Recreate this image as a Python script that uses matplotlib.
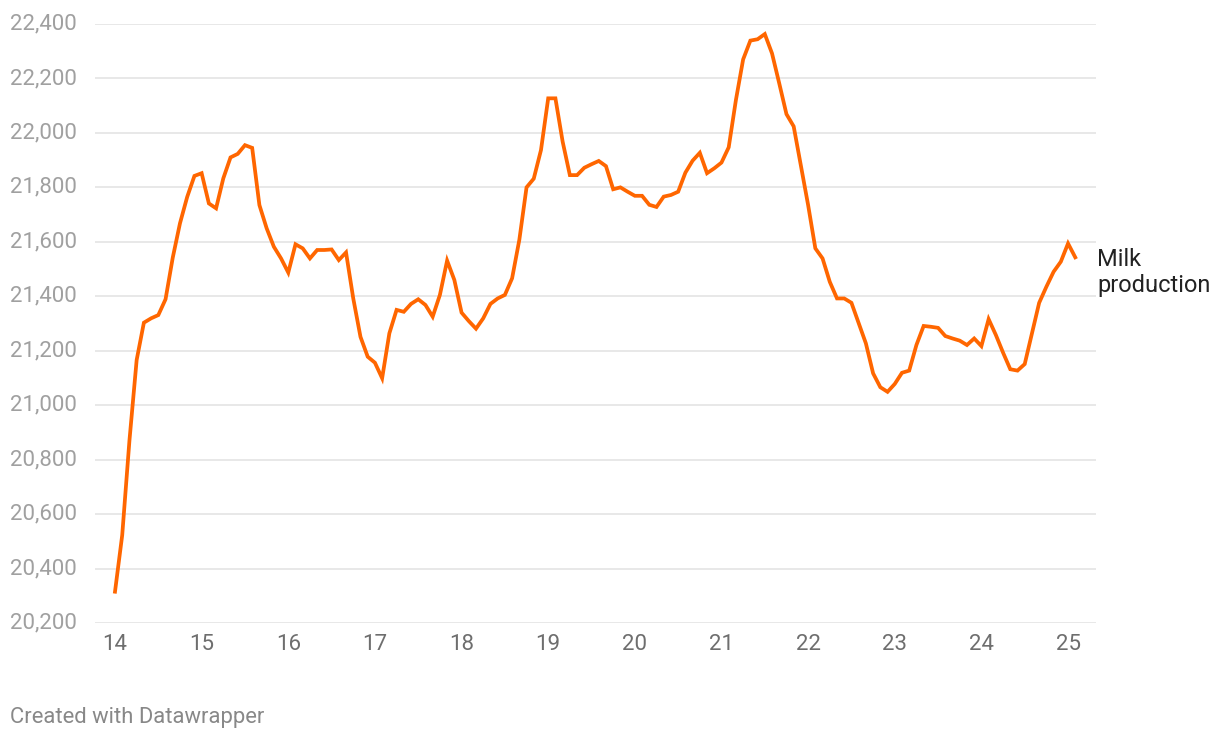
import matplotlib.pyplot as plt
import matplotlib.transforms as mtransforms
import numpy as np

plt.rcParams['font.family'] = ['Roboto', 'DejaVu Sans']

# monthly milk production, Jan 2014 .. Feb 2025 (x axis in years, '14 = 2014)
milk = [
    20315, 20523, 20870, 21166, 21303, 21319, 21331, 21389, 21542, 21668, 21765, 21842,
    21852, 21741, 21723, 21833, 21910, 21923, 21955, 21945, 21735, 21650, 21582, 21539,
    21487, 21591, 21576, 21539, 21570, 21570, 21572, 21533, 21561, 21392, 21251, 21178,
    21156, 21099, 21264, 21350, 21343, 21372, 21389, 21368, 21325, 21405, 21531, 21460,
    21340, 21309, 21281, 21319, 21372, 21392, 21405, 21466, 21607, 21800, 21832, 21937,
    22127, 22127, 21968, 21845, 21845, 21872, 21885, 21897, 21878, 21793, 21800, 21784,
    21769, 21769, 21736, 21728, 21766, 21772, 21784, 21854, 21898, 21927, 21852, 21870,
    21891, 21947, 22121, 22270, 22339, 22344, 22363, 22292, 22182, 22069, 22024, 21880,
    21735, 21576, 21539, 21453, 21392, 21392, 21376, 21301, 21227, 21117, 21066, 21049,
    21078, 21119, 21127, 21221, 21291, 21288, 21284, 21254, 21245, 21237, 21221, 21245,
    21217, 21316, 21258, 21193, 21132, 21127, 21151, 21264, 21376, 21435, 21490, 21527,
    21594, 21543,
]
years = 14 + np.arange(len(milk)) / 12
series_label = 'Milk\nproduction'
x_ticks = list(range(14, 26))
y_ticks = list(range(20200, 22401, 200))

W, H = 1220, 740
fig = plt.figure(figsize=(W / 100, H / 100), dpi=100)
# axes box in pixels: left 95, right 1096, top 24, bottom 623
ax = fig.add_axes([95 / W, 1 - 623 / H, (1096 - 95) / W, (623 - 24) / H])

ax.plot(years, milk, color='#ff6600', lw=2.7, solid_joinstyle='miter', zorder=3)

ax.set_xlim(14 - 20 / 86.64, 14 + 981 / 86.64)
ax.set_ylim(20200, 22400)

# gridlines + left-aligned value labels at the figure's left edge
trans = mtransforms.blended_transform_factory(fig.transFigure, ax.transData)
for v in y_ticks:
    ax.axhline(v, color='#e4e4e4', lw=1.2, zorder=1)
    fig.text(10 / W, v, f'{v:,}', transform=trans, ha='left', va='center',
             fontsize=16, color='#a0a0a0')

ax.set_xticks(x_ticks)
ax.set_xticklabels([str(x) for x in x_ticks], fontsize=16, color='#6e6e6e')
ax.tick_params(axis='x', length=0, pad=8)
ax.set_yticks([])
for s in ax.spines.values():
    s.set_visible(False)

ax.text(years[-1] + 0.25, milk[-1] - 55, series_label, ha='left', va='center',
        fontsize=17, color='#222222', linespacing=1.2)

fig.text(10 / W, 1 - 717 / H, 'Created with Datawrapper', ha='left', va='center',
         fontsize=15.8, color='#888888')

fig.savefig('out.png', dpi=100)
